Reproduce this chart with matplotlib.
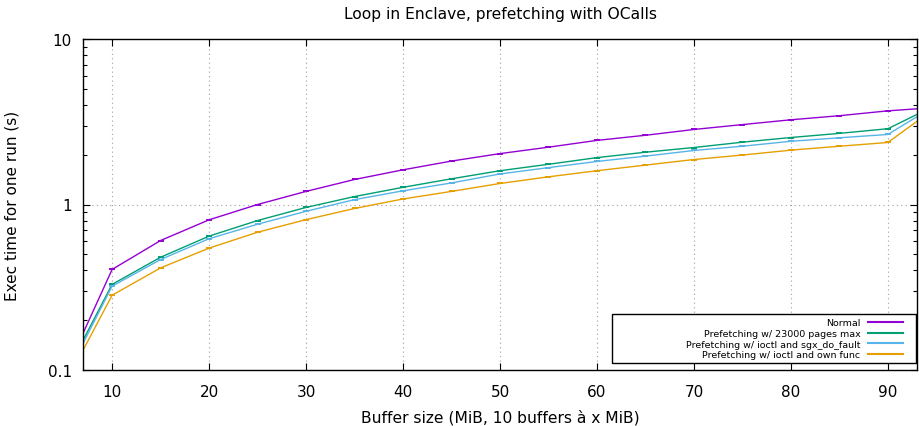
import matplotlib
matplotlib.use('Agg')
import matplotlib.pyplot as plt
from matplotlib.patches import Rectangle
from matplotlib.ticker import LogLocator, FixedLocator, FixedFormatter, NullFormatter

# buffer size in MiB
sizes = [5, 10, 15, 20, 25, 30, 35, 40, 45, 50, 55, 60, 65, 70, 75, 80, 85, 90, 95]

normal = [0.092, 0.405, 0.606, 0.808, 1.0, 1.2, 1.416, 1.62, 1.83, 2.03, 2.22,
          2.44, 2.62, 2.84, 3.04, 3.25, 3.44, 3.68, 3.86]
pages_max = [0.090, 0.329, 0.48, 0.644, 0.80, 0.96, 1.117, 1.27, 1.43, 1.60, 1.75,
             1.92, 2.07, 2.21, 2.38, 2.54, 2.69, 2.87, 4.0]
sgx_fault = [0.085, 0.321, 0.465, 0.621, 0.76, 0.91, 1.07, 1.21, 1.35, 1.53, 1.67,
             1.82, 1.96, 2.12, 2.25, 2.41, 2.53, 2.65, 4.0]
own_func = [0.079, 0.283, 0.414, 0.545, 0.68, 0.81, 0.946, 1.08, 1.20, 1.34, 1.47,
            1.60, 1.73, 1.87, 1.99, 2.13, 2.25, 2.37, 3.87]

labels = ['Normal', 'Prefetching w/ 23000 pages max',
          'Prefetching w/ ioctl and sgx_do_fault', 'Prefetching w/ ioctl and own func']
colors = ['#9400d3', '#009e73', '#56b4e9', '#e69f00']

fig = plt.figure(figsize=(9.19, 4.27), dpi=100)
ax = fig.add_axes([83 / 919, 56 / 427, 834 / 919, 331 / 427])

for y, lab, c in zip([normal, pages_max, sgx_fault, own_func], labels, colors):
    ax.plot(sizes, y, color=c, lw=1.0, marker='_', ms=5, mew=1.4, label=lab)

ax.set_yscale('log')
ax.set_xlim(7, 93)
ax.set_ylim(0.1, 10)

ax.xaxis.set_major_locator(FixedLocator([10, 20, 30, 40, 50, 60, 70, 80, 90]))
ax.yaxis.set_major_locator(FixedLocator([0.1, 1, 10]))
ax.yaxis.set_major_formatter(FixedFormatter(['0.1', '1', '10']))
ax.yaxis.set_minor_locator(LogLocator(base=10, subs=range(2, 10)))
ax.yaxis.set_minor_formatter(NullFormatter())

ax.tick_params(which='both', direction='in', top=True, right=True, labelsize=11, colors='black')
ax.tick_params(which='major', length=5, width=0.8, pad=8)
ax.tick_params(axis='x', which='major', pad=10)
ax.tick_params(which='minor', length=3, width=0.8)
for s in ax.spines.values():
    s.set_linewidth(1.0)

ax.grid(True, which='major', color='#a0a0a0', linestyle=(0, (1, 3)), lw=0.8)

ax.set_title('Loop in Enclave, prefetching with OCalls', fontsize=11.2, pad=15)
ax.set_xlabel('Buffer size (MiB, 10 buffers à x MiB)', fontsize=11.2, labelpad=7)
ax.set_ylabel('Exec time for one run (s)', fontsize=11, labelpad=20)

# legend box, gnuplot style
ax.add_patch(Rectangle((0.634, 0.021), 0.365, 0.148, transform=ax.transAxes,
                       fill=True, facecolor='white', edgecolor='black', lw=1.0, zorder=5))
leg = ax.legend(loc='center right', bbox_to_anchor=(0.983, 0.094), frameon=False,
                markerfirst=False, fontsize=6.8, handlelength=3.7, handletextpad=0.8,
                labelspacing=0.18, borderpad=0, borderaxespad=0)
leg.set_zorder(6)
for h in leg.legend_handles:
    h.set_marker('')
    h.set_linewidth(1.5)

fig.savefig('out.png', dpi=100)
